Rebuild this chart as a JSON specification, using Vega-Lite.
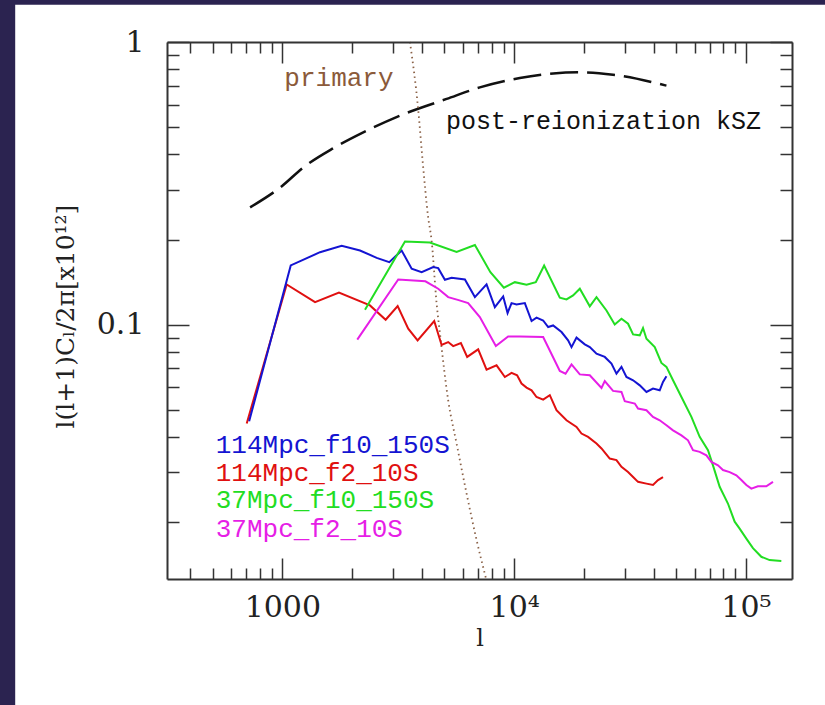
{
  "$schema": "https://vega.github.io/schema/vega-lite/v6.json",
  "width": 625,
  "height": 537,
  "autosize": {"type": "none"},
  "padding": {"left": 167, "top": 42, "right": 33, "bottom": 126},
  "background": "#2b2350",
  "config": {
    "view": {"stroke": null, "fill": "white"},
    "axis": {
      "grid": false,
      "domainColor": "#333333",
      "domainWidth": 2,
      "tickColor": "#333333",
      "tickWidth": 1.5,
      "labelFont": "DejaVu Serif",
      "labelFontSize": 30,
      "labelColor": "#222222",
      "labelOverlap": false,
      "labelFlush": false,
      "labelBound": false,
      "titleFont": "DejaVu Serif",
      "titleFontWeight": "normal",
      "titleColor": "#222222"
    }
  },
  "datasets": {
    "ksz": [
      {"l": 726, "v": 0.260}, {"l": 995, "v": 0.309}, {"l": 1232, "v": 0.360}, {"l": 1659, "v": 0.421},
      {"l": 2234, "v": 0.479}, {"l": 3162, "v": 0.546}, {"l": 5113, "v": 0.629}, {"l": 7112, "v": 0.691},
      {"l": 10580, "v": 0.746}, {"l": 14730, "v": 0.774}, {"l": 19190, "v": 0.781}, {"l": 26710, "v": 0.766},
      {"l": 45390, "v": 0.701}
    ],
    "primary": [
      {"l": 3552, "v": 1.0}, {"l": 3857, "v": 0.575}, {"l": 4027, "v": 0.381}, {"l": 4256, "v": 0.240},
      {"l": 4404, "v": 0.1986}, {"l": 4630, "v": 0.1187}, {"l": 4786, "v": 0.093}, {"l": 5194, "v": 0.054},
      {"l": 5645, "v": 0.038}, {"l": 6233, "v": 0.0253}, {"l": 6887, "v": 0.0173}, {"l": 7553, "v": 0.0127}
    ],
    "series": [
      {"series": "114Mpc_f2_10S", "l": 702, "v": 0.0447}, {"series": "114Mpc_f2_10S", "l": 1044, "v": 0.1388},
      {"series": "114Mpc_f2_10S", "l": 1384, "v": 0.1202}, {"series": "114Mpc_f2_10S", "l": 1755, "v": 0.1298},
      {"series": "114Mpc_f2_10S", "l": 2388, "v": 0.117}, {"series": "114Mpc_f2_10S", "l": 2791, "v": 0.1041},
      {"series": "114Mpc_f2_10S", "l": 3144, "v": 0.1163}, {"series": "114Mpc_f2_10S", "l": 3492, "v": 0.0968},
      {"series": "114Mpc_f2_10S", "l": 3833, "v": 0.088}, {"series": "114Mpc_f2_10S", "l": 4521, "v": 0.103},
      {"series": "114Mpc_f2_10S", "l": 4864, "v": 0.0848}, {"series": "114Mpc_f2_10S", "l": 5194, "v": 0.0868},
      {"series": "114Mpc_f2_10S", "l": 5458, "v": 0.084}, {"series": "114Mpc_f2_10S", "l": 5892, "v": 0.0861},
      {"series": "114Mpc_f2_10S", "l": 6272, "v": 0.0769}, {"series": "114Mpc_f2_10S", "l": 6996, "v": 0.0818},
      {"series": "114Mpc_f2_10S", "l": 7603, "v": 0.0693}, {"series": "114Mpc_f2_10S", "l": 8397, "v": 0.0718},
      {"series": "114Mpc_f2_10S", "l": 9120, "v": 0.0653}, {"series": "114Mpc_f2_10S", "l": 9745, "v": 0.0675},
      {"series": "114Mpc_f2_10S", "l": 10300, "v": 0.0662}, {"series": "114Mpc_f2_10S", "l": 10760, "v": 0.0619},
      {"series": "114Mpc_f2_10S", "l": 11310, "v": 0.0599}, {"series": "114Mpc_f2_10S", "l": 11890, "v": 0.0586},
      {"series": "114Mpc_f2_10S", "l": 12490, "v": 0.0555}, {"series": "114Mpc_f2_10S", "l": 13340, "v": 0.0543},
      {"series": "114Mpc_f2_10S", "l": 14250, "v": 0.0563}, {"series": "114Mpc_f2_10S", "l": 15230, "v": 0.0498},
      {"series": "114Mpc_f2_10S", "l": 16820, "v": 0.0459}, {"series": "114Mpc_f2_10S", "l": 18580, "v": 0.0435},
      {"series": "114Mpc_f2_10S", "l": 19520, "v": 0.0412}, {"series": "114Mpc_f2_10S", "l": 20840, "v": 0.0401},
      {"series": "114Mpc_f2_10S", "l": 22660, "v": 0.038}, {"series": "114Mpc_f2_10S", "l": 23810, "v": 0.0365},
      {"series": "114Mpc_f2_10S", "l": 25850, "v": 0.0336}, {"series": "114Mpc_f2_10S", "l": 27630, "v": 0.0332},
      {"series": "114Mpc_f2_10S", "l": 29040, "v": 0.0314}, {"series": "114Mpc_f2_10S", "l": 31000, "v": 0.0301},
      {"series": "114Mpc_f2_10S", "l": 32590, "v": 0.0289}, {"series": "114Mpc_f2_10S", "l": 34230, "v": 0.0278},
      {"series": "114Mpc_f2_10S", "l": 37220, "v": 0.0274}, {"series": "114Mpc_f2_10S", "l": 39720, "v": 0.0271},
      {"series": "114Mpc_f2_10S", "l": 41760, "v": 0.0282}, {"series": "114Mpc_f2_10S", "l": 43870, "v": 0.0289},

      {"series": "114Mpc_f10_150S", "l": 719, "v": 0.0455}, {"series": "114Mpc_f10_150S", "l": 1087, "v": 0.162},
      {"series": "114Mpc_f10_150S", "l": 1454, "v": 0.1805}, {"series": "114Mpc_f10_150S", "l": 1803, "v": 0.19},
      {"series": "114Mpc_f10_150S", "l": 2163, "v": 0.183}, {"series": "114Mpc_f10_150S", "l": 2553, "v": 0.1724},
      {"series": "114Mpc_f10_150S", "l": 2893, "v": 0.1664}, {"series": "114Mpc_f10_150S", "l": 3271, "v": 0.183},
      {"series": "114Mpc_f10_150S", "l": 3613, "v": 0.1577}, {"series": "114Mpc_f10_150S", "l": 3990, "v": 0.1534},
      {"series": "114Mpc_f10_150S", "l": 4477, "v": 0.1598}, {"series": "114Mpc_f10_150S", "l": 4703, "v": 0.1585},
      {"series": "114Mpc_f10_150S", "l": 5027, "v": 0.1442}, {"series": "114Mpc_f10_150S", "l": 5373, "v": 0.1466},
      {"series": "114Mpc_f10_150S", "l": 6132, "v": 0.1445}, {"series": "114Mpc_f10_150S", "l": 6771, "v": 0.1252},
      {"series": "114Mpc_f10_150S", "l": 7603, "v": 0.1388}, {"series": "114Mpc_f10_150S", "l": 8256, "v": 0.1154},
      {"series": "114Mpc_f10_150S", "l": 8968, "v": 0.1259}, {"series": "114Mpc_f10_150S", "l": 9368, "v": 0.11},
      {"series": "114Mpc_f10_150S", "l": 9745, "v": 0.1192}, {"series": "114Mpc_f10_150S", "l": 10240, "v": 0.1179},
      {"series": "114Mpc_f10_150S", "l": 11120, "v": 0.1192}, {"series": "114Mpc_f10_150S", "l": 11890, "v": 0.103},
      {"series": "114Mpc_f10_150S", "l": 12490, "v": 0.1059}, {"series": "114Mpc_f10_150S", "l": 13340, "v": 0.1035},
      {"series": "114Mpc_f10_150S", "l": 14020, "v": 0.0981}, {"series": "114Mpc_f10_150S", "l": 14730, "v": 0.0994},
      {"series": "114Mpc_f10_150S", "l": 16010, "v": 0.0942}, {"series": "114Mpc_f10_150S", "l": 17090, "v": 0.088},
      {"series": "114Mpc_f10_150S", "l": 17680, "v": 0.0833}, {"series": "114Mpc_f10_150S", "l": 18580, "v": 0.09},
      {"series": "114Mpc_f10_150S", "l": 20170, "v": 0.0852}, {"series": "114Mpc_f10_150S", "l": 21200, "v": 0.0833},
      {"series": "114Mpc_f10_150S", "l": 22660, "v": 0.079}, {"series": "114Mpc_f10_150S", "l": 24600, "v": 0.0769},
      {"series": "114Mpc_f10_150S", "l": 26290, "v": 0.0728}, {"series": "114Mpc_f10_150S", "l": 27630, "v": 0.0671},
      {"series": "114Mpc_f10_150S", "l": 29040, "v": 0.0709}, {"series": "114Mpc_f10_150S", "l": 30510, "v": 0.0653},
      {"series": "114Mpc_f10_150S", "l": 32590, "v": 0.0636}, {"series": "114Mpc_f10_150S", "l": 34830, "v": 0.061},
      {"series": "114Mpc_f10_150S", "l": 37220, "v": 0.0578}, {"series": "114Mpc_f10_150S", "l": 39720, "v": 0.0594},
      {"series": "114Mpc_f10_150S", "l": 42460, "v": 0.0586}, {"series": "114Mpc_f10_150S", "l": 43870, "v": 0.0627},
      {"series": "114Mpc_f10_150S", "l": 45390, "v": 0.0657},

      {"series": "37Mpc_f10_150S", "l": 2273, "v": 0.113}, {"series": "37Mpc_f10_150S", "l": 3381, "v": 0.1969},
      {"series": "37Mpc_f10_150S", "l": 4331, "v": 0.1953}, {"series": "37Mpc_f10_150S", "l": 5645, "v": 0.1808},
      {"series": "37Mpc_f10_150S", "l": 6771, "v": 0.1914}, {"series": "37Mpc_f10_150S", "l": 7898, "v": 0.1534},
      {"series": "37Mpc_f10_150S", "l": 9029, "v": 0.1351}, {"series": "37Mpc_f10_150S", "l": 10070, "v": 0.1414},
      {"series": "37Mpc_f10_150S", "l": 11310, "v": 0.1384}, {"series": "37Mpc_f10_150S", "l": 12400, "v": 0.1414},
      {"series": "37Mpc_f10_150S", "l": 13470, "v": 0.162}, {"series": "37Mpc_f10_150S", "l": 15740, "v": 0.1246},
      {"series": "37Mpc_f10_150S", "l": 16820, "v": 0.1229}, {"series": "37Mpc_f10_150S", "l": 17960, "v": 0.1269},
      {"series": "37Mpc_f10_150S", "l": 19200, "v": 0.134}, {"series": "37Mpc_f10_150S", "l": 21200, "v": 0.1161},
      {"series": "37Mpc_f10_150S", "l": 22660, "v": 0.1252}, {"series": "37Mpc_f10_150S", "l": 25020, "v": 0.1123},
      {"series": "37Mpc_f10_150S", "l": 27160, "v": 0.1002}, {"series": "37Mpc_f10_150S", "l": 29040, "v": 0.105},
      {"series": "37Mpc_f10_150S", "l": 31000, "v": 0.1008}, {"series": "37Mpc_f10_150S", "l": 32590, "v": 0.0924},
      {"series": "37Mpc_f10_150S", "l": 34830, "v": 0.0917}, {"series": "37Mpc_f10_150S", "l": 35970, "v": 0.0973},
      {"series": "37Mpc_f10_150S", "l": 37220, "v": 0.0892}, {"series": "37Mpc_f10_150S", "l": 40420, "v": 0.0833},
      {"series": "37Mpc_f10_150S", "l": 43180, "v": 0.0732}, {"series": "37Mpc_f10_150S", "l": 45390, "v": 0.0709},
      {"series": "37Mpc_f10_150S", "l": 48460, "v": 0.0636}, {"series": "37Mpc_f10_150S", "l": 52680, "v": 0.0555},
      {"series": "37Mpc_f10_150S", "l": 58170, "v": 0.0472}, {"series": "37Mpc_f10_150S", "l": 63150, "v": 0.0401},
      {"series": "37Mpc_f10_150S", "l": 68590, "v": 0.036}, {"series": "37Mpc_f10_150S", "l": 72070, "v": 0.0318},
      {"series": "37Mpc_f10_150S", "l": 77020, "v": 0.0267}, {"series": "37Mpc_f10_150S", "l": 83620, "v": 0.0233},
      {"series": "37Mpc_f10_150S", "l": 89400, "v": 0.0201}, {"series": "37Mpc_f10_150S", "l": 93930, "v": 0.019},
      {"series": "37Mpc_f10_150S", "l": 100400, "v": 0.0175}, {"series": "37Mpc_f10_150S", "l": 107200, "v": 0.0162},
      {"series": "37Mpc_f10_150S", "l": 116500, "v": 0.0151}, {"series": "37Mpc_f10_150S", "l": 126500, "v": 0.0147},
      {"series": "37Mpc_f10_150S", "l": 142100, "v": 0.0146},

      {"series": "37Mpc_f2_10S", "l": 2105, "v": 0.0885}, {"series": "37Mpc_f2_10S", "l": 3162, "v": 0.1445},
      {"series": "37Mpc_f2_10S", "l": 4142, "v": 0.1424}, {"series": "37Mpc_f2_10S", "l": 4703, "v": 0.134},
      {"series": "37Mpc_f2_10S", "l": 5194, "v": 0.1252}, {"series": "37Mpc_f2_10S", "l": 5715, "v": 0.1224},
      {"series": "37Mpc_f2_10S", "l": 6333, "v": 0.1192}, {"series": "37Mpc_f2_10S", "l": 7112, "v": 0.1064},
      {"series": "37Mpc_f2_10S", "l": 8338, "v": 0.084}, {"series": "37Mpc_f2_10S", "l": 9422, "v": 0.0909},
      {"series": "37Mpc_f2_10S", "l": 10580, "v": 0.0909}, {"series": "37Mpc_f2_10S", "l": 13340, "v": 0.0904},
      {"series": "37Mpc_f2_10S", "l": 15740, "v": 0.0686}, {"series": "37Mpc_f2_10S", "l": 16660, "v": 0.0671},
      {"series": "37Mpc_f2_10S", "l": 17680, "v": 0.0724}, {"series": "37Mpc_f2_10S", "l": 19200, "v": 0.0667},
      {"series": "37Mpc_f2_10S", "l": 21200, "v": 0.0662}, {"series": "37Mpc_f2_10S", "l": 23810, "v": 0.0597},
      {"series": "37Mpc_f2_10S", "l": 24600, "v": 0.0632}, {"series": "37Mpc_f2_10S", "l": 26710, "v": 0.0583},
      {"series": "37Mpc_f2_10S", "l": 29040, "v": 0.0578}, {"series": "37Mpc_f2_10S", "l": 30010, "v": 0.0536},
      {"series": "37Mpc_f2_10S", "l": 33150, "v": 0.0526}, {"series": "37Mpc_f2_10S", "l": 34230, "v": 0.0505},
      {"series": "37Mpc_f2_10S", "l": 37220, "v": 0.0498}, {"series": "37Mpc_f2_10S", "l": 39720, "v": 0.0472},
      {"series": "37Mpc_f2_10S", "l": 42460, "v": 0.0459}, {"series": "37Mpc_f2_10S", "l": 45390, "v": 0.0441},
      {"series": "37Mpc_f2_10S", "l": 48460, "v": 0.0423}, {"series": "37Mpc_f2_10S", "l": 52680, "v": 0.0406},
      {"series": "37Mpc_f2_10S", "l": 56230, "v": 0.039}, {"series": "37Mpc_f2_10S", "l": 59100, "v": 0.036},
      {"series": "37Mpc_f2_10S", "l": 63150, "v": 0.0355}, {"series": "37Mpc_f2_10S", "l": 67500, "v": 0.0345},
      {"series": "37Mpc_f2_10S", "l": 70930, "v": 0.0327}, {"series": "37Mpc_f2_10S", "l": 75740, "v": 0.0318},
      {"series": "37Mpc_f2_10S", "l": 79600, "v": 0.0306}, {"series": "37Mpc_f2_10S", "l": 85070, "v": 0.0301},
      {"series": "37Mpc_f2_10S", "l": 90910, "v": 0.0293}, {"series": "37Mpc_f2_10S", "l": 95540, "v": 0.0282},
      {"series": "37Mpc_f2_10S", "l": 100400, "v": 0.0271}, {"series": "37Mpc_f2_10S", "l": 105500, "v": 0.0263},
      {"series": "37Mpc_f2_10S", "l": 112600, "v": 0.0268}, {"series": "37Mpc_f2_10S", "l": 122400, "v": 0.0268},
      {"series": "37Mpc_f2_10S", "l": 130800, "v": 0.0278}
    ],
    "labels": [
      {"series": "114Mpc_f10_150S", "l": 516, "v": 0.0352},
      {"series": "114Mpc_f2_10S", "l": 516, "v": 0.02795},
      {"series": "37Mpc_f10_150S", "l": 516, "v": 0.02238},
      {"series": "37Mpc_f2_10S", "l": 516, "v": 0.01776},
      {"series": "primary", "l": 1020, "v": 0.701}
    ],
    "kszlabel": [
      {"series": "post-reionization kSZ", "l": 5077, "v": 0.4928}
    ]
  },
  "layer": [
    {
      "data": {"values": [{}]},
      "mark": {"type": "rect", "color": "white", "clip": false},
      "encoding": {
        "x": {"datum": 70.4, "type": "quantitative", "scale": {"type": "log", "domain": [318, 158000], "nice": false}, "axis": null},
        "x2": {"datum": 10000000},
        "y": {"datum": 1.355, "type": "quantitative", "scale": {"type": "log", "domain": [0.0126, 1], "nice": false}, "axis": null},
        "y2": {"datum": 0.0001}
      }
    },
    {
      "data": {"name": "ksz"},
      "mark": {"type": "line", "color": "#111111", "strokeWidth": 2.5, "strokeDash": [28, 9], "interpolate": "monotone"},
      "encoding": {
        "x": {
          "field": "l", "type": "quantitative",
          "scale": {"type": "log", "domain": [318, 158000], "nice": false},
          "axis": {
            "orient": "bottom",
            "zindex": 2,
            "values": [400, 500, 600, 700, 800, 900, 1000, 2000, 3000, 4000, 5000, 6000, 7000, 8000, 9000, 10000, 20000, 30000, 40000, 50000, 60000, 70000, 80000, 90000, 100000],
            "tickSize": {"condition": {"test": "indexof([1000, 10000, 100000], datum.value) >= 0", "value": -21}, "value": -11},
            "labelExpr": "datum.value == 1000 ? '1000' : datum.value == 10000 ? '10⁴' : datum.value == 100000 ? '10⁵' : ''",
            "labelPadding": 58,
            "labelBaseline": "alphabetic",
            "title": "l",
            "titleFontSize": 24,
            "titleY": 66,
            "titleBaseline": "alphabetic"
          }
        },
        "y": {
          "field": "v", "type": "quantitative",
          "scale": {"type": "log", "domain": [0.0126, 1], "nice": false},
          "axis": {
            "orient": "left",
            "zindex": 2,
            "values": [0.02, 0.03, 0.04, 0.05, 0.06, 0.07, 0.08, 0.09, 0.1, 0.2, 0.3, 0.4, 0.5, 0.6, 0.7, 0.8, 0.9, 1],
            "tickSize": {"condition": {"test": "datum.value == 0.1 || datum.value == 1", "value": -22}, "value": -12},
            "labelExpr": "datum.value == 1 ? '1' : datum.value == 0.1 ? '0.1' : ''",
            "labelPadding": 45,
            "labelBaseline": "middle",
            "title": "l(l+1)Cₗ/2π[x10¹²]",
            "titleFontSize": 25,
            "titleAngle": 270,
            "titleX": -94,
            "titleY": 274,
            "titleAlign": "center",
            "titleBaseline": "alphabetic"
          }
        }
      }
    },
    {
      "data": {"name": "primary"},
      "mark": {"type": "line", "color": "#8b6248", "strokeWidth": 1.8, "strokeDash": [1.5, 3.5], "interpolate": "monotone"},
      "encoding": {
        "x": {
          "field": "l", "type": "quantitative",
          "axis": {
            "orient": "top",
            "zindex": 2,
            "values": [400, 500, 600, 700, 800, 900, 1000, 2000, 3000, 4000, 5000, 6000, 7000, 8000, 9000, 10000, 20000, 30000, 40000, 50000, 60000, 70000, 80000, 90000, 100000],
            "tickSize": {"condition": {"test": "indexof([1000, 10000, 100000], datum.value) >= 0", "value": -21}, "value": -11},
            "labels": false,
            "title": null
          }
        },
        "y": {
          "field": "v", "type": "quantitative",
          "axis": {
            "orient": "right",
            "zindex": 2,
            "values": [0.02, 0.03, 0.04, 0.05, 0.06, 0.07, 0.08, 0.09, 0.1, 0.2, 0.3, 0.4, 0.5, 0.6, 0.7, 0.8, 0.9, 1],
            "tickSize": {"condition": {"test": "datum.value == 0.1 || datum.value == 1", "value": -22}, "value": -12},
            "labels": false,
            "title": null
          }
        }
      }
    },
    {
      "data": {"name": "series"},
      "mark": {"type": "line", "strokeWidth": 2},
      "encoding": {
        "x": {"field": "l", "type": "quantitative", "axis": null},
        "y": {"field": "v", "type": "quantitative", "axis": null},
        "color": {
          "field": "series", "type": "nominal",
          "scale": {
            "domain": ["114Mpc_f10_150S", "114Mpc_f2_10S", "37Mpc_f10_150S", "37Mpc_f2_10S", "primary", "post-reionization kSZ"],
            "range": ["#1414d2", "#e01010", "#22dd22", "#e61ee6", "#8b5a3a", "#111111"]
          },
          "legend": null
        }
      }
    },
    {
      "data": {"name": "labels"},
      "mark": {"type": "text", "align": "left", "baseline": "alphabetic", "font": "Liberation Mono", "fontSize": 26},
      "encoding": {
        "x": {"field": "l", "type": "quantitative", "axis": null},
        "y": {"field": "v", "type": "quantitative", "axis": null},
        "text": {"field": "series"},
        "color": {"field": "series", "type": "nominal", "legend": null}
      }
    },
    {
      "data": {"name": "kszlabel"},
      "mark": {"type": "text", "align": "left", "baseline": "alphabetic", "font": "Liberation Mono", "fontSize": 25},
      "encoding": {
        "x": {"field": "l", "type": "quantitative", "axis": null},
        "y": {"field": "v", "type": "quantitative", "axis": null},
        "text": {"field": "series"},
        "color": {"field": "series", "type": "nominal", "legend": null}
      }
    }
  ],
  "resolve": {"axis": {"x": "independent", "y": "independent"}}
}
